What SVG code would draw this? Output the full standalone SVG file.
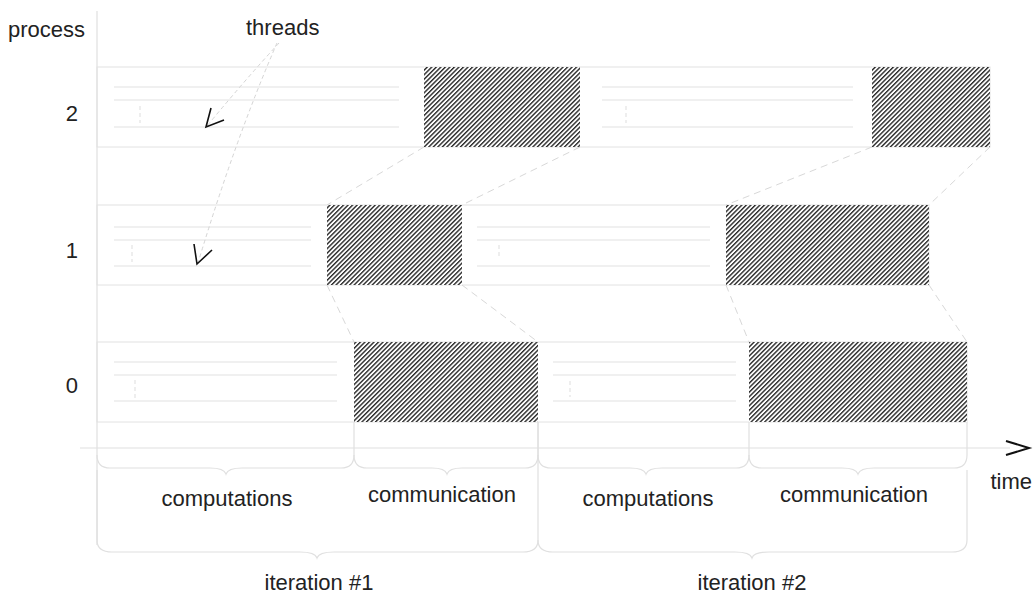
<svg xmlns="http://www.w3.org/2000/svg" width="1036" height="597" viewBox="0 0 1036 597">
<style>
text{font-family:"Liberation Sans",Arial,sans-serif;font-size:22px;fill:#222}
.box{fill:none;stroke:#e2e2e2;stroke-width:1}
.th{stroke:#e2e2e2;stroke-width:1.2;fill:none}
.tick{stroke:#ddd;stroke-width:1;stroke-dasharray:4 3}
.hatch{fill:url(#hatch)}
.conn{stroke:#d8d8d8;stroke-width:1;stroke-dasharray:7 5;fill:none}
.brace{stroke:#e0e0e0;stroke-width:1.2;fill:none}
.axis{stroke:#e0e0e0;stroke-width:1.2;fill:none}
.ah{stroke:#111;stroke-width:1.6;fill:none}
.ptr{stroke:#d4d4d4;stroke-width:1;stroke-dasharray:4 3;fill:none}
</style>
<defs>
<pattern id="hatch" patternUnits="userSpaceOnUse" width="3.2" height="3.2" patternTransform="rotate(45)">
<rect x="0" y="0" width="3.2" height="3.2" fill="#fff"/>
<rect x="0" y="0" width="1.4" height="3.2" fill="#2a2a2a"/>
</pattern>
</defs>

<g id="axes">
<line class="axis" x1="97" y1="11" x2="97" y2="545"/>
<line class="axis" x1="80" y1="448" x2="1010" y2="448"/>
<polyline class="ah" points="1006,441 1029,448 1006,455" style="stroke-width:2"/>
<text x="1032" y="489" text-anchor="end">time</text>
<text x="8" y="37">process</text>
</g>

<g id="process2">
<rect class="box" x="97" y="67" width="893" height="80"/>
<line class="th" x1="114" y1="87" x2="399" y2="87"/>
<line class="th" x1="114" y1="100" x2="399" y2="100"/>
<line class="th" x1="114" y1="127" x2="399" y2="127"/>
<line class="tick" x1="140" y1="106" x2="140" y2="123"/>
<rect class="hatch" x="424" y="67" width="156" height="80"/>
<line class="th" x1="602" y1="87" x2="853" y2="87"/>
<line class="th" x1="602" y1="100" x2="853" y2="100"/>
<line class="th" x1="602" y1="127" x2="853" y2="127"/>
<line class="tick" x1="626" y1="106" x2="626" y2="123"/>
<rect class="hatch" x="872" y="67" width="118" height="80"/>
<text x="78" y="121" text-anchor="end">2</text>
</g>

<g id="process1">
<rect class="box" x="97" y="205" width="832" height="80"/>
<line class="th" x1="114" y1="227" x2="311" y2="227"/>
<line class="th" x1="114" y1="240" x2="311" y2="240"/>
<line class="th" x1="114" y1="266" x2="311" y2="266"/>
<line class="tick" x1="132" y1="245" x2="132" y2="262"/>
<rect class="hatch" x="327" y="205" width="135" height="80"/>
<line class="th" x1="477" y1="227" x2="710" y2="227"/>
<line class="th" x1="477" y1="240" x2="710" y2="240"/>
<line class="th" x1="477" y1="266" x2="710" y2="266"/>
<line class="tick" x1="499" y1="245" x2="499" y2="259"/>
<rect class="hatch" x="726" y="205" width="203" height="80"/>
<text x="78" y="258" text-anchor="end">1</text>
</g>

<g id="process0">
<rect class="box" x="97" y="342" width="870" height="80"/>
<line class="th" x1="114" y1="362" x2="337" y2="362"/>
<line class="th" x1="114" y1="375" x2="337" y2="375"/>
<line class="th" x1="114" y1="401" x2="337" y2="401"/>
<line class="tick" x1="135" y1="380" x2="135" y2="398"/>
<rect class="hatch" x="354" y="342" width="184" height="80"/>
<line class="th" x1="553" y1="362" x2="736" y2="362"/>
<line class="th" x1="553" y1="375" x2="736" y2="375"/>
<line class="th" x1="553" y1="401" x2="736" y2="401"/>
<line class="tick" x1="570" y1="381" x2="570" y2="397"/>
<rect class="hatch" x="749" y="342" width="218" height="80"/>
<text x="78" y="393" text-anchor="end">0</text>
</g>

<g id="threads">
<text x="246" y="35">threads</text>
<path class="ptr" d="M279,43 Q245,80 207,126"/>
<path class="ptr" d="M277,43 Q235,140 198,263"/>
<polyline class="ah" points="211,108 206,127 224,120"/>
<polyline class="ah" points="194,244 197,264 212,250"/>
</g>

<g id="connectors">
<line class="conn" x1="424" y1="147" x2="327" y2="205"/>
<line class="conn" x1="580" y1="147" x2="462" y2="205"/>
<line class="conn" x1="872" y1="147" x2="726" y2="205"/>
<line class="conn" x1="990" y1="147" x2="929" y2="205"/>
<line class="conn" x1="327" y1="285" x2="354" y2="342"/>
<line class="conn" x1="462" y1="285" x2="538" y2="342"/>
<line class="conn" x1="726" y1="285" x2="749" y2="342"/>
<line class="conn" x1="929" y1="285" x2="967" y2="342"/>
</g>

<g id="braces">
<path class="brace" d="M97,455 Q97,468 110,468 H210 Q224,468 226,474 Q228,468 242,468 H341 Q354,468 354,455 V422"/>
<path class="brace" d="M354,455 Q354,468 367,468 H432 Q445,468 447,474 Q449,468 462,468 H525 Q538,468 538,455 V422"/>
<path class="brace" d="M538,455 Q538,468 551,468 H630 Q644,468 646,474 Q648,468 662,468 H736 Q749,468 749,455 V422"/>
<path class="brace" d="M749,455 Q749,468 762,468 H842 Q856,468 858,474 Q860,468 874,468 H954 Q967,468 967,455 V422"/>
<path class="brace" d="M97,470 V540 Q97,552 112,552 H300 Q315,552 317,558 Q319,552 334,552 H523 Q538,552 538,540 V422"/>
<path class="brace" d="M538,540 Q538,552 553,552 H735 Q750,552 752,558 Q754,552 769,552 H952 Q967,552 967,540 V470"/>
<text x="227" y="506" text-anchor="middle">computations</text>
<text x="442" y="502" text-anchor="middle">communication</text>
<text x="648" y="506" text-anchor="middle">computations</text>
<text x="854" y="502" text-anchor="middle">communication</text>
<text x="319" y="590" text-anchor="middle">iteration #1</text>
<text x="752" y="590" text-anchor="middle">iteration #2</text>
</g>
</svg>
